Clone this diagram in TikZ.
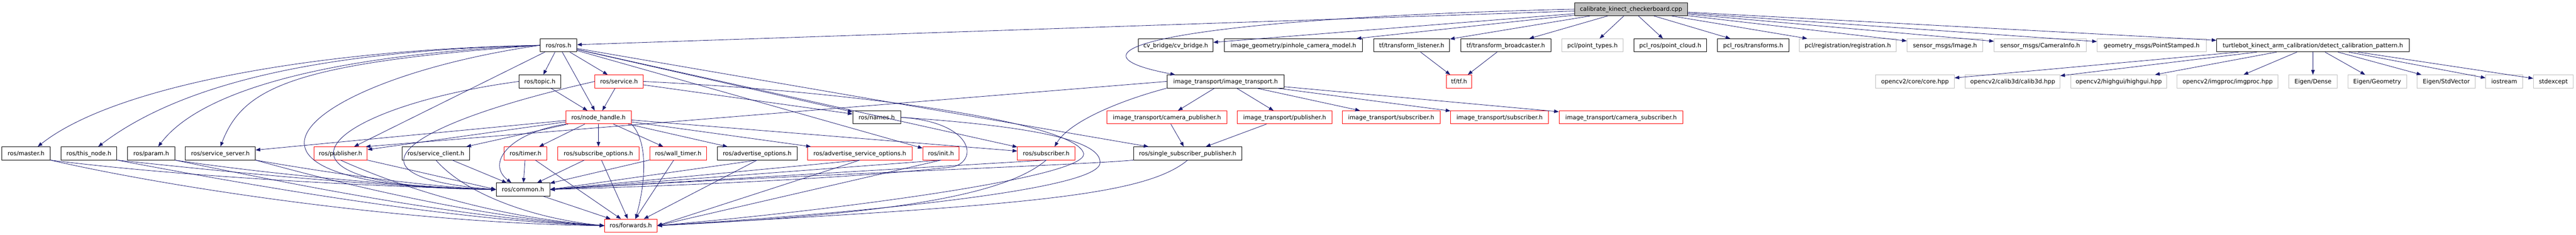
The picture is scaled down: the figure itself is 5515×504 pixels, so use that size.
\documentclass[tikz,border=0pt]{standalone}
\usepackage{fontspec}
\setmainfont{DejaVu Sans}
\usepackage{xcolor}
\usetikzlibrary{arrows.meta}
\definecolor{midnight}{HTML}{191970}
\definecolor{boxgray}{HTML}{BFBFBF}

\begin{document}
\begin{tikzpicture}[x=1pt,y=-1pt,>={Triangle[length=10pt,width=7.5pt]},
  hdr/.style={draw=black,line width=1pt,minimum height=28pt,inner sep=0pt,
    text height=10pt,text depth=1.4pt,font=\fontsize{12.6}{15}\selectfont},
  trunc/.style={hdr,draw=red},
  ext/.style={hdr,draw=boxgray},
  edge/.style={->,draw=midnight,fill=none,line width=0.9pt}]
\useasboundingbox (0,0) rectangle (5515,504);

\node[hdr,fill=boxgray,minimum width=242.6pt] (root) at (3492,19.7) {calibrate\_kinect\_checkerboard.cpp};

\node[hdr,minimum width=78.7pt] (ros) at (1195.7,97.2) {ros/ros.h};
\node[hdr,minimum width=159.7pt] (cvb) at (2517.2,97.2) {cv\_bridge/cv\_bridge.h};
\node[hdr,minimum width=296pt] (igeo) at (2769,97.2) {image\_geometry/pinhole\_camera\_model.h};
\node[hdr,minimum width=162.7pt] (tfl) at (3022.3,97.2) {tf/transform\_listener.h};
\node[hdr,minimum width=193.7pt] (tfb) at (3223.8,97.2) {tf/transform\_broadcaster.h};
\node[ext,minimum width=131pt] (pcltypes) at (3409.2,97.2) {pcl/point\_types.h};
\node[hdr,minimum width=156.3pt] (pclcloud) at (3575.8,97.2) {pcl\_ros/point\_cloud.h};
\node[hdr,minimum width=153.7pt] (pcltf) at (3753.2,97.2) {pcl\_ros/transforms.h};
\node[ext,minimum width=207pt] (pclreg) at (3955.8,97.2) {pcl/registration/registration.h};
\node[ext,minimum width=162.6pt] (smimg) at (4164,97.2) {sensor\_msgs/Image.h};
\node[ext,minimum width=197pt] (smcam) at (4367.8,97.2) {sensor\_msgs/CameraInfo.h};
\node[ext,minimum width=233.6pt] (gmpt) at (4606.5,97.2) {geometry\_msgs/PointStamped.h};
\node[hdr,minimum width=412.3pt] (detect) at (4951.8,97.2) {turtlebot\_kinect\_arm\_calibration/detect\_calibration\_pattern.h};

\node[hdr,minimum width=89.7pt] (topic) at (1155.8,174.7) {ros/topic.h};
\node[trunc,minimum width=103pt] (service) at (1325.2,174.7) {ros/service.h};
\node[hdr,minimum width=251pt] (itimg) at (2623.8,174.7) {image\_transport/image\_transport.h};
\node[trunc,minimum width=54.7pt] (tf) at (3123.7,174.7) {tf/tf.h};
\node[ext,minimum width=168.3pt] (cvcore) at (4099.8,174.7) {opencv2/core/core.hpp};
\node[ext,minimum width=202.6pt] (cvcalib) at (4309,174.7) {opencv2/calib3d/calib3d.hpp};
\node[ext,minimum width=204.6pt] (cvhigh) at (4536,174.7) {opencv2/highgui/highgui.hpp};
\node[ext,minimum width=216.3pt] (cvimg) at (4769.2,174.7) {opencv2/imgproc/imgproc.hpp};
\node[ext,minimum width=103pt] (edense) at (4951.8,174.7) {Eigen/Dense};
\node[ext,minimum width=125.7pt] (egeo) at (5089.2,174.7) {Eigen/Geometry};
\node[ext,minimum width=124.3pt] (estd) at (5237.2,174.7) {Eigen/StdVector};
\node[ext,minimum width=79pt] (iostream) at (5361.2,174.7) {iostream};
\node[ext,minimum width=85.6pt] (stdexcept) at (5466.5,174.7) {stdexcept};

\node[trunc,minimum width=140pt] (nh) at (1281.3,251.7) {ros/node\_handle.h};
\node[hdr,minimum width=102.6pt] (names) at (1877,251.7) {ros/names.h};
\node[trunc,minimum width=257.3pt] (itcpub) at (2498.3,251.7) {image\_transport/camera\_publisher.h};
\node[trunc,minimum width=202pt] (itpub) at (2750.3,251.7) {image\_transport/publisher.h};
\node[trunc,minimum width=209.3pt] (itsub) at (2978.3,251.7) {image\_transport/subscriber.h};
\node[trunc,minimum width=209.6pt] (itsubb) at (3210.5,251.7) {image\_transport/subscriber.h};
\node[trunc,minimum width=265.6pt] (itcsub) at (3470.5,251.7) {image\_transport/camera\_subscriber.h};

\node[hdr,minimum width=103pt] (master) at (55.8,329) {ros/master.h};
\node[hdr,minimum width=120pt] (thisnode) at (190.3,329) {ros/this\_node.h};
\node[hdr,minimum width=100.7pt] (param) at (323.7,329) {ros/param.h};
\node[hdr,minimum width=149.7pt] (srvserver) at (471.8,329) {ros/service\_server.h};
\node[trunc,minimum width=114.6pt] (pub) at (729,329) {ros/publisher.h};
\node[hdr,minimum width=144.3pt] (srvclient) at (933.2,329) {ros/service\_client.h};
\node[trunc,minimum width=90.6pt] (timer) at (1125,329) {ros/timer.h};
\node[trunc,minimum width=173.7pt] (subopts) at (1281.2,329) {ros/subscribe\_options.h};
\node[trunc,minimum width=121.7pt] (walltimer) at (1451.8,329) {ros/wall\_timer.h};
\node[hdr,minimum width=170.6pt] (advopts) at (1621,329) {ros/advertise\_options.h};
\node[trunc,minimum width=223pt] (advsrvopts) at (1840.8,329) {ros/advertise\_service\_options.h};
\node[trunc,minimum width=77.6pt] (init) at (2014.5,329) {ros/init.h};
\node[trunc,minimum width=123pt] (sub) at (2239.8,329) {ros/subscriber.h};
\node[hdr,minimum width=232pt] (ssp) at (2542.7,329) {ros/single\_subscriber\_publisher.h};

\node[hdr,minimum width=114.7pt] (common) at (1119.7,406.5) {ros/common.h};
\node[trunc,minimum width=112.4pt] (forwards) at (1350.5,484) {ros/forwards.h};

\draw[edge] (root) -- (ros);
\draw[edge] (root.west) .. controls (2500,40) and (2250,110) .. ([xshift=18pt]itimg.north west);
\draw[edge] (root) -- (cvb);
\draw[edge] (root) -- (igeo);
\draw[edge] (root) -- (tfl);
\draw[edge] (root) -- (tfb);
\draw[edge] (root) -- (pcltypes);
\draw[edge] (root) -- (pclcloud);
\draw[edge] (root) -- (pcltf);
\draw[edge] (root) -- (pclreg);
\draw[edge] (root) -- (smimg);
\draw[edge] (root) -- (smcam);
\draw[edge] (root) -- (gmpt);
\draw[edge] (root) -- (detect);

\draw[edge] (detect) -- (cvcore);
\draw[edge] (detect) -- (cvcalib);
\draw[edge] (detect) -- (cvhigh);
\draw[edge] (detect) -- (cvimg);
\draw[edge] (detect) -- (edense);
\draw[edge] (detect) -- (egeo);
\draw[edge] (detect) -- (estd);
\draw[edge] (detect) -- (iostream);
\draw[edge] (detect) -- (stdexcept);

\draw[edge] (tfl) -- (tf);
\draw[edge] (tfb) -- (tf);

\draw[edge] (itimg) -- (itcpub);
\draw[edge] (itimg) -- (itpub);
\draw[edge] (itimg) -- (itsub);
\draw[edge] (itimg) -- (itsubb);
\draw[edge] (itimg) -- (itcsub);
\draw[edge] (itcpub) -- (ssp);
\draw[edge] (itpub) -- (ssp);
\draw[edge] (itimg.west) -- (pub.15);
\draw[edge] (itimg.south west) .. controls (2400,215) and (2290,260) .. ([xshift=18pt]sub.north);

\draw[edge] (ros.west) .. controls (700,105) and (250,180) .. ([xshift=25pt]master.north);
\draw[edge] (ros.west) .. controls (720,108) and (400,170) .. ([xshift=20pt]thisnode.north);
\draw[edge] (ros.west) .. controls (760,115) and (440,180) .. ([xshift=15pt]param.north);
\draw[edge] (ros.west) .. controls (620,135) and (520,190) .. (srvserver.north);
\draw[edge] (ros) -- (pub);
\draw[edge] (ros) -- (topic);
\draw[edge] (ros) -- (service);
\draw[edge] (ros) -- (nh);
\draw[edge] (ros) -- (names);
\draw[edge] (ros) -- (init);
\draw[edge] (ros) -- (sub);
\draw[edge] (ros) -- (ssp);
\draw[edge] (ros.west) .. controls (650,170) and (380,400) .. (common.west);

\draw[edge] (topic) -- (nh);
\draw[edge] (topic.west) .. controls (700,230) and (500,400) .. (common.west);
\draw[edge] (service) -- (nh);
\draw[edge] (service) -- (names);
\draw[edge] (service.west) .. controls (850,270) and (720,380) .. (common.west);
\draw[edge] (service.east) .. controls (1900,200) and (2310,270) .. (2320,330) .. controls (2325,380) and (1800,450) .. (forwards.east);

\draw[edge] (names.east) .. controls (2085,262) and (2095,345) .. (2040,358) .. controls (1800,385) and (1400,400) .. (common.east);
\draw[edge] (names.east) .. controls (2200,270) and (2360,300) .. (2355,350) .. controls (2350,410) and (1800,460) .. (forwards.east);

\draw[edge] (nh) -- (srvserver);
\draw[edge] (nh) -- (pub);
\draw[edge] (nh) -- (srvclient);
\draw[edge] (nh) -- (timer);
\draw[edge] (nh) -- (subopts);
\draw[edge] (nh) -- (walltimer);
\draw[edge] (nh) -- (advopts);
\draw[edge] (nh) -- (advsrvopts);
\draw[edge] (nh) -- (sub);
\draw[edge] (nh.south west) .. controls (1090,285) and (1040,350) .. ([xshift=-25pt]common.north);
\draw[edge] (nh.south east) .. controls (1385,300) and (1385,380) .. ([xshift=10pt]forwards.north);

\draw[edge] (master.south east) .. controls (400,380) and (800,400) .. (common.west);
\draw[edge] (master.south east) .. controls (400,410) and (900,480) .. (forwards.west);
\draw[edge] (thisnode.south east) .. controls (500,370) and (800,400) .. (common.west);
\draw[edge] (thisnode.south east) .. controls (600,410) and (1000,475) .. (forwards.west);
\draw[edge] (param.south east) .. controls (550,370) and (850,400) .. (common.west);
\draw[edge] (param.south east) .. controls (650,400) and (1000,470) .. (forwards.west);
\draw[edge] (srvserver.south east) .. controls (700,370) and (900,400) .. (common.west);
\draw[edge] (srvserver.south east) .. controls (750,400) and (1050,470) .. (forwards.west);
\draw[edge] (pub.south east) -- (common.west);
\draw[edge] (pub.south) .. controls (900,420) and (1100,470) .. (forwards.west);
\draw[edge] (srvclient) -- (common);
\draw[edge] (srvclient.south) .. controls (1000,420) and (1150,470) .. (forwards.west);
\draw[edge] (timer) -- (common);
\draw[edge] (timer) -- (forwards);
\draw[edge] (subopts) -- (common);
\draw[edge] (subopts) -- (forwards);
\draw[edge] (walltimer) -- (common);
\draw[edge] (walltimer) -- (forwards);
\draw[edge] (advopts.south) -- (common.east);
\draw[edge] (advopts.south) -- (forwards);
\draw[edge] (advsrvopts.south) -- (common.east);
\draw[edge] (advsrvopts.south) -- (forwards.east);
\draw[edge] (init.south) -- (common.east);
\draw[edge] (init.south) -- (forwards.east);
\draw[edge] (sub.south) -- (common.east);
\draw[edge] (sub.south) .. controls (2150,420) and (1900,460) .. (forwards.east);
\draw[edge] (ssp.south west) .. controls (2300,355) and (1700,375) .. (common.east);
\draw[edge] (ssp.south) .. controls (2450,420) and (2200,440) .. (forwards.east);
\draw[edge] (common) -- (forwards);
\end{tikzpicture}
\end{document}
